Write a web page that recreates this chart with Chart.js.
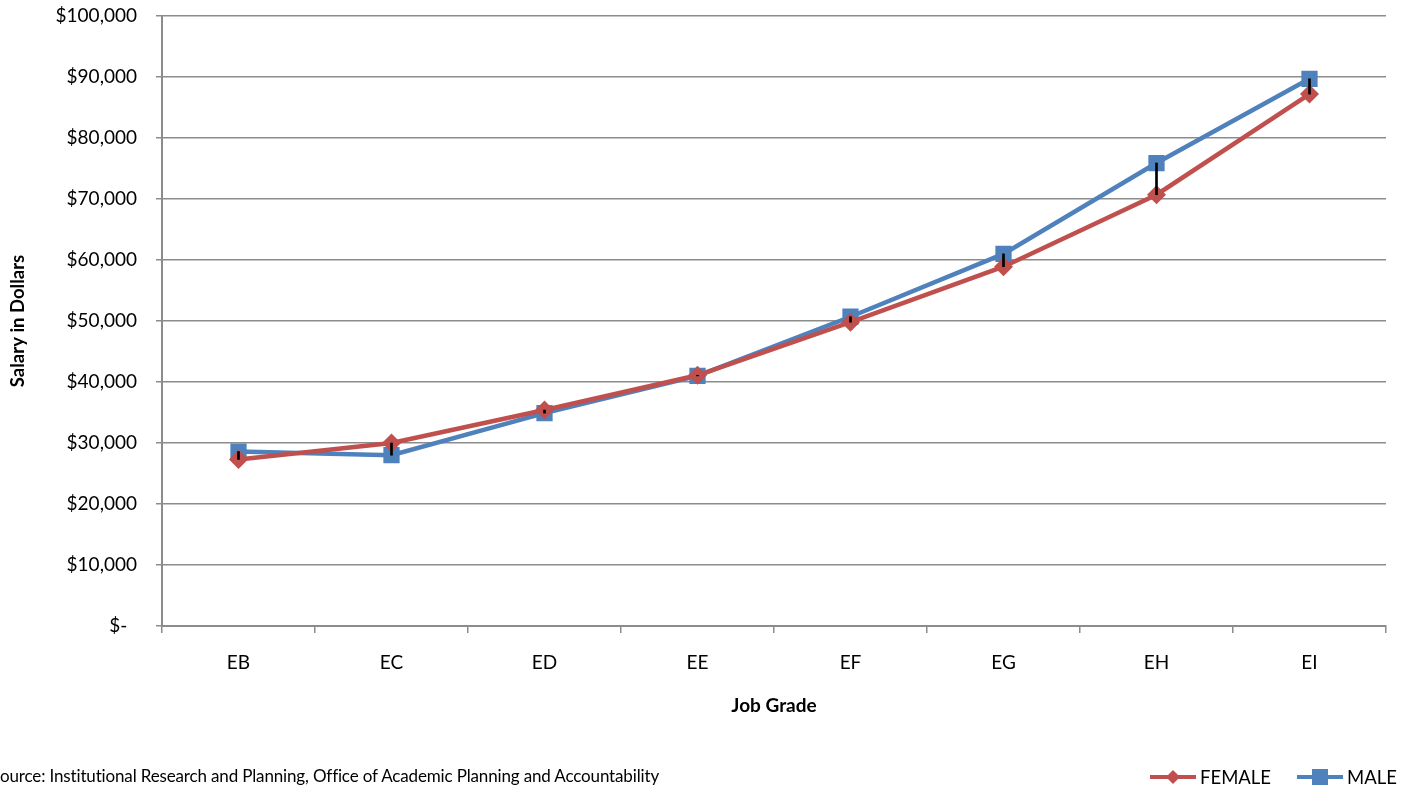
<!DOCTYPE html>
<html>
<head>
<meta charset="utf-8">
<script src="https://cdn.jsdelivr.net/npm/chart.js@4/dist/chart.umd.min.js"></script>
<style>
  html, body { margin: 0; padding: 0; background: #fff; }
  #wrap { position: relative; width: 1408px; height: 792px; overflow: hidden; font-family: Lato, "Open Sans", sans-serif; }
  #c { position: absolute; left: 0; top: 0; }
  #source { position: absolute; left: -9px; top: 766px; font-size: 17px; line-height: 20px; color: #000; white-space: nowrap; letter-spacing: -0.15px; }
  .leg { position: absolute; top: 766px; height: 22px; display: flex; align-items: center; font-size: 18.5px; color: #000; white-space: nowrap; }
  .leg canvas { margin-right: 4px; }
</style>
</head>
<body>
<div id="wrap">
  <canvas id="c" width="1408" height="792"></canvas>
  <div id="source">Source: Institutional Research and Planning, Office of Academic Planning and Accountability</div>
  <div class="leg" id="legF" style="left:1150px"></div>
  <div class="leg" id="legM" style="left:1297px"></div>
</div>
<script>
// Average salary by job grade
const grades = ['EB', 'EC', 'ED', 'EE', 'EF', 'EG', 'EH', 'EI'];
const female = [27300, 30000, 35400, 41100, 49800, 58900, 70700, 87200];
const male   = [28600, 28000, 34900, 41000, 50700, 61000, 75900, 89700];
const yTicks = [0, 10000, 20000, 30000, 40000, 50000, 60000, 70000, 80000, 90000, 100000];
const seriesNames = ['FEMALE', 'MALE'];

const FEMALE_COLOR = '#C0504D';
const MALE_COLOR = '#4F81BD';
const AXIS_COLOR = '#8c8c8c';
const FONT = 'Lato, "Open Sans", sans-serif';

// Gap between the two series at each grade (high-low line)
const gap = grades.map((g, i) => [Math.min(female[i], male[i]), Math.max(female[i], male[i])]);

// Legend swatch: a short line segment with the series marker in the middle
function legendSwatch(color, shape) {
  const cv = document.createElement('canvas');
  cv.width = 46; cv.height = 18;
  const x = cv.getContext('2d');
  x.strokeStyle = color; x.lineWidth = 4;
  x.beginPath(); x.moveTo(0, 9); x.lineTo(46, 9); x.stroke();
  x.fillStyle = color;
  if (shape === 'diamond') {
    x.beginPath(); x.moveTo(23, 2); x.lineTo(30, 9); x.lineTo(23, 16); x.lineTo(16, 9); x.closePath(); x.fill();
  } else {
    x.fillRect(15, 1, 16, 16);
  }
  return cv;
}
[['legF', FEMALE_COLOR, 'diamond'], ['legM', MALE_COLOR, 'square']].forEach(([id, col, shape], i) => {
  const el = document.getElementById(id);
  el.appendChild(legendSwatch(col, shape));
  el.appendChild(document.createTextNode(seriesNames[i]));
});

function money(v) {
  if (v === 0) return '$-  ';
  return '$' + v.toLocaleString('en-US');
}

new Chart(document.getElementById('c'), {
  data: {
    labels: grades,
    datasets: [
      {
        type: 'bar', label: 'gap', data: gap, order: 0,
        backgroundColor: '#000', barThickness: 2, grouped: false
      },
      {
        type: 'line', label: seriesNames[0], data: female, order: 1,
        borderColor: FEMALE_COLOR, backgroundColor: FEMALE_COLOR, borderWidth: 4.5,
        pointStyle: 'rectRot', pointRadius: 9.5, pointHoverRadius: 9.5, pointBorderWidth: 0,
        tension: 0
      },
      {
        type: 'line', label: seriesNames[1], data: male, order: 2,
        borderColor: MALE_COLOR, backgroundColor: MALE_COLOR, borderWidth: 4.5,
        pointStyle: 'rect', pointRadius: 11.5, pointHoverRadius: 11.5, pointBorderWidth: 0,
        tension: 0
      }
    ]
  },
  options: {
    responsive: false,
    animation: false,
    layout: { padding: { top: 16, right: 22, left: 0, bottom: 66 } },
    plugins: {
      tooltip: { enabled: false },
      legend: { display: false }
    },
    scales: {
      x: {
        type: 'category', offset: true,
        afterFit: (scale) => { scale.height = 100; },
        grid: { offset: true, drawOnChartArea: false, drawTicks: true, tickLength: 7, color: AXIS_COLOR, lineWidth: 1.5 },
        border: { display: true, color: AXIS_COLOR, width: 2 },
        ticks: { font: { family: FONT, size: 19 }, color: '#000', padding: 18 },
        title: { display: true, text: 'Job Grade', font: { family: FONT, size: 19, weight: 'bold' }, color: '#000', padding: { top: 0, bottom: 9 } }
      },
      y: {
        min: 0, max: 100000,
        afterFit: (scale) => { scale.width = 162; scale.paddingTop = 0; scale.paddingBottom = 0; },
        afterBuildTicks: (scale) => { scale.ticks = yTicks.map(v => ({ value: v })); },
        grid: { drawTicks: true, tickLength: 6, color: AXIS_COLOR, lineWidth: 1.5 },
        border: { display: true, color: AXIS_COLOR, width: 2 },
        ticks: { font: { family: FONT, size: 19 }, color: '#000', padding: 19, callback: (v) => money(v) },
        title: { display: true, text: 'Salary in Dollars', font: { family: FONT, size: 18.5, weight: 'bold' }, color: '#000', padding: { top: 7, bottom: 0 } }
      }
    }
  }
});
</script>
</body>
</html>
